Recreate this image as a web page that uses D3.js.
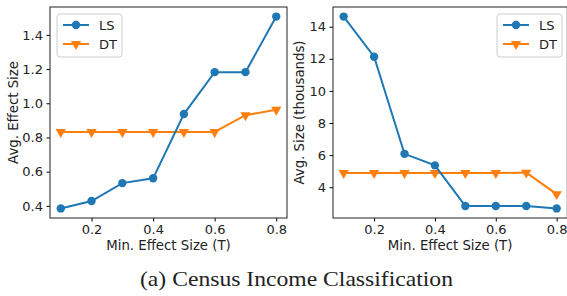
<!DOCTYPE html>
<html>
<head>
<meta charset="utf-8">
<script src="https://cdn.jsdelivr.net/npm/d3@7"></script>
<style>
  body { margin: 0; background: #fff; }
  svg { display: block; }
  text { font-family: "DejaVu Sans", sans-serif; fill: #222; }
</style>
</head>
<body>
<svg id="chart" width="567" height="296"></svg>
<script>
// data
const thresholds = [0.1, 0.2, 0.3, 0.4, 0.5, 0.6, 0.7, 0.8];
const lsEffect = [0.385, 0.428, 0.533, 0.561, 0.937, 1.182, 1.182, 1.507];
const dtEffect = [0.832, 0.832, 0.832, 0.832, 0.832, 0.832, 0.93, 0.962];
const lsSize = [14.63, 12.13, 6.08, 5.36, 2.83, 2.83, 2.83, 2.68];
const dtSize = [4.88, 4.88, 4.88, 4.88, 4.88, 4.88, 4.91, 3.57];
const xTicks = [0.2, 0.4, 0.6, 0.8];
const effectTicks = [0.4, 0.6, 0.8, 1.0, 1.2, 1.4];
const sizeTicks = [4, 6, 8, 10, 12, 14];

const blue = "#1f77b4", orange = "#ff7f0e";
const tickFont = "13px", labelFont = "13.3px";
const svg = d3.select("#chart");

// pad a domain by 5% each side, like matplotlib
function padded(vals) {
  const [lo, hi] = d3.extent(vals);
  const m = (hi - lo) * 0.05;
  return [lo - m, hi + m];
}

function panel(opts) {
  const g = svg.append("g");
  const x = d3.scaleLinear().domain(padded(thresholds)).range([opts.left, opts.right]);
  const y = d3.scaleLinear().domain(padded(opts.ls.concat(opts.dt))).range([218, 7]);

  // axes
  g.append("g").attr("transform", "translate(0,218)")
    .call(d3.axisBottom(x).tickValues(xTicks).tickFormat(d3.format(".1f")).tickSizeOuter(0).tickSize(3.5).tickPadding(3.5))
    .call(a => a.select(".domain").remove())
    .call(a => a.selectAll("text").style("font-size", tickFont).attr("fill", "#222").style("font-family", "DejaVu Sans"));
  g.append("g").attr("transform", `translate(${opts.left},0)`)
    .call(d3.axisLeft(y).tickValues(opts.ticks).tickFormat(opts.fmt).tickSizeOuter(0).tickSize(3.5).tickPadding(3.5))
    .call(a => a.select(".domain").remove())
    .call(a => a.selectAll("text").style("font-size", tickFont).attr("fill", "#222").style("font-family", "DejaVu Sans"));

  g.append("rect")
    .attr("x", opts.left).attr("y", 7)
    .attr("width", opts.right - opts.left).attr("height", 211)
    .attr("fill", "none").attr("stroke", "#222").attr("stroke-width", 1);

  const line = d3.line().x((d, i) => x(thresholds[i])).y(d => y(d));

  const tri = d3.symbol().type(d3.symbolTriangle).size(46);

  // DT first, LS on top
  g.append("path").datum(opts.dt).attr("d", line)
    .attr("fill", "none").attr("stroke", orange).attr("stroke-width", 2);
  g.selectAll(".dt").data(opts.dt).join("path")
    .attr("d", tri)
    .attr("transform", (d, i) => `translate(${x(thresholds[i])},${y(d)}) rotate(180)`)
    .attr("fill", orange);

  g.append("path").datum(opts.ls).attr("d", line)
    .attr("fill", "none").attr("stroke", blue).attr("stroke-width", 2);
  g.selectAll(".ls").data(opts.ls).join("circle")
    .attr("cx", (d, i) => x(thresholds[i])).attr("cy", d => y(d))
    .attr("r", 4.2).attr("fill", blue);

  // axis titles
  g.append("text")
    .attr("x", (opts.left + opts.right) / 2).attr("y", 249.5)
    .attr("text-anchor", "middle").style("font-size", labelFont)
    .text("Min. Effect Size (T)");
  g.append("text")
    .attr("transform", `translate(${opts.ylabelX},${(7 + 218) / 2}) rotate(-90)`)
    .attr("text-anchor", "middle").style("font-size", labelFont)
    .text(opts.ylabel);

  // legend
  const lg = g.append("g").attr("transform", `translate(${opts.legX},14)`);
  lg.append("rect").attr("width", 65).attr("height", 43).attr("rx", 3)
    .attr("fill", "#fff").attr("fill-opacity", 0.8).attr("stroke", "#ccc");
  [["LS", blue, 0], ["DT", orange, 1]].forEach(([name, c, k]) => {
    const yy = 11 + k * 19;
    lg.append("line").attr("x1", 6).attr("x2", 32).attr("y1", yy).attr("y2", yy)
      .attr("stroke", c).attr("stroke-width", 2);
    if (k === 0) lg.append("circle").attr("cx", 19).attr("cy", yy).attr("r", 4.2).attr("fill", c);
    else lg.append("path").attr("d", tri).attr("transform", `translate(19,${yy}) rotate(180)`).attr("fill", c);
    lg.append("text").attr("x", 42).attr("y", yy).attr("dy", "0.36em")
      .style("font-size", tickFont).text(name);
  });
}

panel({
  left: 50, right: 287, ls: lsEffect, dt: dtEffect, ticks: effectTicks,
  fmt: d3.format(".1f"), ylabel: "Avg. Effect Size", ylabelX: 18, legX: 57
});
panel({
  left: 333, right: 567.3, ls: lsSize, dt: dtSize, ticks: sizeTicks,
  fmt: d3.format("d"), ylabel: "Avg. Size (thousands)", ylabelX: 304, legX: 497
});

svg.append("text")
  .attr("x", 296.5).attr("y", 286)
  .attr("text-anchor", "middle")
  .attr("textLength", 313).attr("lengthAdjust", "spacingAndGlyphs")
  .style("font-family", "'Liberation Serif', serif").style("font-size", "21px")
  .text("(a) Census Income Classification");
</script>
</body>
</html>
